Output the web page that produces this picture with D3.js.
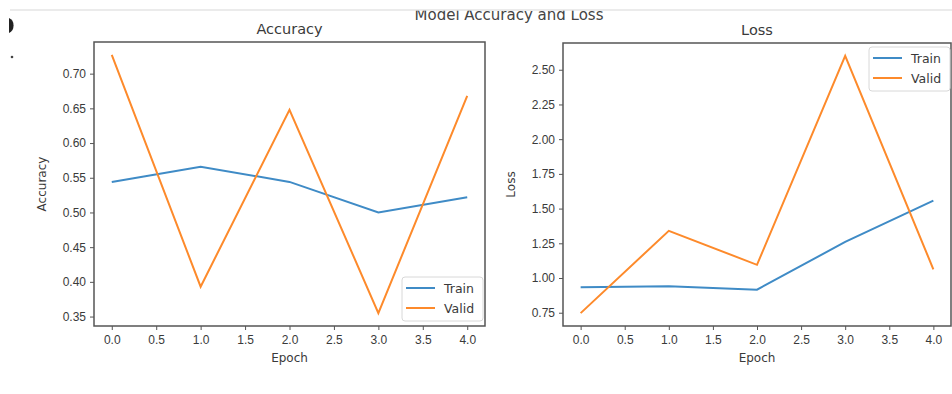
<!DOCTYPE html>
<html>
<head>
<meta charset="utf-8">
<script src="https://cdn.jsdelivr.net/npm/d3@7"></script>
<style>
  body { margin: 0; background: #fff; }
  svg { display: block; font-family: "DejaVu Sans", sans-serif; }
</style>
</head>
<body>
<div id="chart"></div>
<script>
const epochs = [0, 1, 2, 3, 4];
const accTrain = [0.544, 0.566, 0.544, 0.500, 0.522];
const accValid = [0.727, 0.393, 0.648, 0.355, 0.668];
const lossTrain = [0.934, 0.940, 0.916, 1.260, 1.557];
const lossValid = [0.747, 1.340, 1.095, 2.600, 1.063];
const xTicks = [0, 0.5, 1, 1.5, 2, 2.5, 3, 3.5, 4];
const accTicks = [0.35, 0.40, 0.45, 0.50, 0.55, 0.60, 0.65, 0.70];
const lossTicks = [0.75, 1.00, 1.25, 1.50, 1.75, 2.00, 2.25, 2.50];
const seriesNames = ["Train", "Valid"];

const W = 952, H = 394;
const blue = "#3f8bc6", orange = "#fd8a2b";
const textColor = "#3a3a3a";

const svg = d3.select("#chart")
    .append("svg")
    .attr("width", W)
    .attr("height", H);

// matplotlib style 5% margin on data
function padded(vals) {
    const lo = d3.min(vals), hi = d3.max(vals);
    const m = (hi - lo) * 0.05;
    return [lo - m, hi + m];
}

function panel(opts) {
    const { left, right, top, bottom, train, valid, yTicks, title, ylabel, legendPos } = opts;

    const x = d3.scaleLinear().domain([-0.2, 4.2]).range([left, right]);
    const y = d3.scaleLinear().domain(padded(train.concat(valid))).range([bottom, top]);

    const g = svg.append("g");

    // X axis
    const xa = g.append("g")
        .attr("transform", `translate(0,${bottom})`)
        .call(d3.axisBottom(x).tickValues(xTicks).tickFormat(d3.format(".1f")).tickSize(4).tickPadding(5));
    xa.select(".domain").remove();
    xa.selectAll("line").attr("stroke", "#555");
    xa.selectAll("text").attr("fill", textColor).style("font-size", "12px");

    // Y axis
    const ya = g.append("g")
        .attr("transform", `translate(${left},0)`)
        .call(d3.axisLeft(y).tickValues(yTicks).tickFormat(d3.format(".2f")).tickSize(4).tickPadding(4));
    ya.select(".domain").remove();
    ya.selectAll("line").attr("stroke", "#555");
    ya.selectAll("text").attr("fill", textColor).style("font-size", "12px");

    const line = d3.line()
        .x((d, i) => x(epochs[i]))
        .y(d => y(d));

    const clipId = "clip" + left;
    svg.append("clipPath").attr("id", clipId)
        .append("rect").attr("x", left).attr("y", top)
        .attr("width", right - left).attr("height", bottom - top);

    g.append("path")
        .datum(train)
        .attr("clip-path", `url(#${clipId})`)
        .attr("fill", "none")
        .attr("stroke", blue)
        .attr("stroke-width", 2)
        .attr("d", line);

    g.append("path")
        .datum(valid)
        .attr("clip-path", `url(#${clipId})`)
        .attr("fill", "none")
        .attr("stroke", orange)
        .attr("stroke-width", 2)
        .attr("d", line);

    // frame
    g.append("rect")
        .attr("x", left).attr("y", top)
        .attr("width", right - left).attr("height", bottom - top)
        .attr("fill", "none")
        .attr("stroke", "#555")
        .attr("stroke-width", 1.5);

    // titles / labels
    g.append("text")
        .attr("x", (left + right) / 2).attr("y", top - 8)
        .attr("text-anchor", "middle")
        .attr("fill", textColor)
        .style("font-size", "14.5px")
        .text(title);

    g.append("text")
        .attr("x", (left + right) / 2).attr("y", 362)
        .attr("text-anchor", "middle")
        .attr("fill", textColor)
        .style("font-size", "12px")
        .text("Epoch");

    g.append("text")
        .attr("transform", `translate(${left - 48},${(top + bottom) / 2}) rotate(-90)`)
        .attr("text-anchor", "middle")
        .attr("fill", textColor)
        .style("font-size", "12px")
        .text(ylabel);

    // legend
    const lg = g.append("g").attr("transform", `translate(${legendPos[0]},${legendPos[1]})`);
    lg.append("rect")
        .attr("width", 81).attr("height", 44)
        .attr("rx", 3)
        .attr("fill", "#fff").attr("fill-opacity", 0.85)
        .attr("stroke", "#d8d8d8");
    [blue, orange].forEach((c, i) => {
        lg.append("line")
            .attr("x1", 4).attr("x2", 33)
            .attr("y1", 11 + i * 20).attr("y2", 11 + i * 20)
            .attr("stroke", c).attr("stroke-width", 2);
        lg.append("text")
            .attr("x", 42).attr("y", 15.5 + i * 20)
            .attr("fill", textColor)
            .style("font-size", "12.5px")
            .text(seriesNames[i]);
    });
}

panel({
    left: 94, right: 485, top: 42, bottom: 326,
    train: accTrain, valid: accValid, yTicks: accTicks,
    title: "Accuracy", ylabel: "Accuracy", legendPos: [402, 277]
});

panel({
    left: 563, right: 951, top: 43, bottom: 326,
    train: lossTrain, valid: lossValid, yTicks: lossTicks,
    title: "Loss", ylabel: "Loss", legendPos: [869, 47]
});

// suptitle, top part clipped by the screenshot band
svg.append("text")
    .attr("x", 509).attr("y", 19.5)
    .attr("text-anchor", "middle")
    .attr("fill", "#444")
    .style("font-size", "15px")
    .text("Model Accuracy and Loss");

svg.append("rect")
    .attr("x", 0).attr("y", 0).attr("width", W).attr("height", 10)
    .attr("fill", "#fff");
svg.append("line")
    .attr("x1", 10).attr("x2", W).attr("y1", 10).attr("y2", 10)
    .attr("stroke", "#e4e4e4").attr("stroke-width", 1.5);

// stray marks at the left edge of the screenshot
svg.append("path")
    .attr("d", "M9,18 A7,8 0 0 1 9,33 Z")
    .attr("fill", "#222");
svg.append("circle")
    .attr("cx", 12).attr("cy", 57).attr("r", 1.3)
    .attr("fill", "#444");
</script>
</body>
</html>
